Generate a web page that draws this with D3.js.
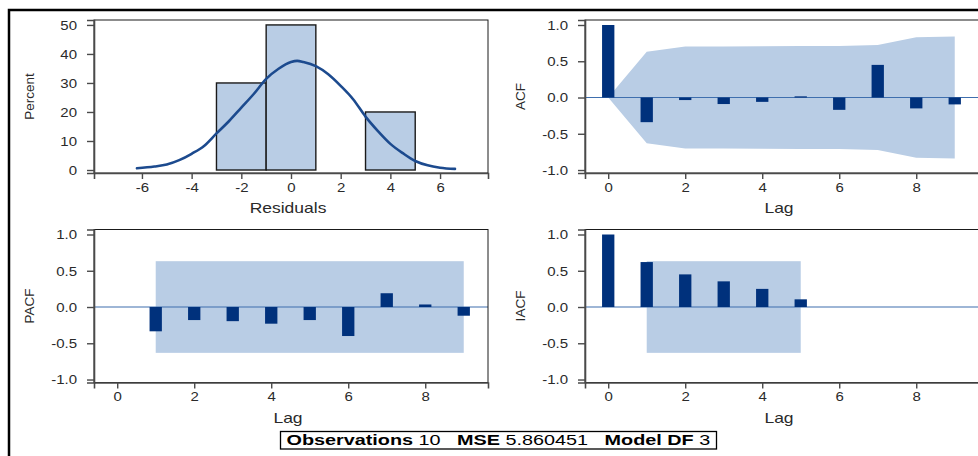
<!DOCTYPE html>
<html>
<head>
<meta charset="utf-8">
<script src="https://cdn.jsdelivr.net/npm/d3@7"></script>
<style>
  body { margin: 0; background: #fff; }
  svg { display: block; }
  text { font-family: "Liberation Sans", Arial, sans-serif; fill: #2a2a2a; }
</style>
</head>
<body>
<svg id="chart" width="978" height="456"></svg>
<script>
// ---- Residual distribution (percent of observations per bin of width 2) ----
const binStarts = [-3, -1, 3];
const binEnds = [-1, 1, 5];
const binPercent = [30, 50, 20];

// Fitted normal density, percent scale
const normX = [-6.2, -5.5, -5.0, -4.5, -4.0, -3.5, -3.0, -2.5, -2.0, -1.5, -1.0, -0.5, 0.0, 0.25,
               0.5, 1.0, 1.5, 2.0, 2.5, 3.0, 3.5, 4.0, 4.5, 5.0, 5.5, 6.0, 6.6];
const normY = [0.6, 1.2, 1.9, 3.4, 5.6, 8.3, 12.6, 16.8, 21.5, 26.2, 31.4, 34.9, 37.2, 37.6,
               37.2, 35.8, 33.0, 29.0, 24.4, 18.4, 13.4, 9.0, 5.8, 3.1, 1.6, 0.8, 0.4];

// ---- Autocorrelation diagnostics ----
const acfLags = [0, 1, 2, 3, 4, 5, 6, 7, 8, 9];
const acfValues = [1.0, -0.34, -0.035, -0.09, -0.06, 0.016, -0.17, 0.45, -0.15, -0.095];
const acfBand = [0, 0.632, 0.702, 0.702, 0.707, 0.709, 0.709, 0.725, 0.830, 0.840];

const pacfLags = [1, 2, 3, 4, 5, 6, 7, 8, 9];
const pacfValues = [-0.335, -0.18, -0.195, -0.23, -0.18, -0.40, 0.19, 0.035, -0.12];

const iacfLags = [0, 1, 2, 3, 4, 5];
const iacfValues = [1.0, 0.62, 0.45, 0.354, 0.25, 0.106];

const sigLimit = 0.632;          // 2 / sqrt(n)
const pacfBandLags = [1, 9];
const iacfBandLags = [1, 5];

// ---- Tick labels ----
const residualTicks = [-6, -4, -2, 0, 2, 4, 6];
const percentTicks = [0, 10, 20, 30, 40, 50];
const lagTicks = [0, 2, 4, 6, 8];
const corrTicks = [-1.0, -0.5, 0.0, 0.5, 1.0];

// ---- Fit statistics ----
const statLabels = ["Observations", "MSE", "Model DF"];
const statValues = ["10", "5.860451", "3"];

// ---- Drawing ----
const SX = 1.25;                 // horizontal stretch applied to upright text
const svg = d3.select("#chart");
const PW = 394, PH = 153;

const colors = {
  band: "#b9cde5",
  histFill: "#b9cde5",
  bar: "#00317c",
  curve: "#1c4a8e",
  zero: "#3f6fae",
  axis: "#4a4a4a",
  frame: "#1a1a1a"
};

// outer frame
svg.append("rect")
  .attr("x", 9).attr("y", 10)
  .attr("width", 1100).attr("height", 600)
  .attr("fill", "none").attr("stroke", "#000").attr("stroke-width", 2.5);

function stretchText(g, x, y, str, size, anchor, weight) {
  return g.append("text")
    .attr("transform", `translate(${x},${y}) scale(${SX},1)`)
    .attr("text-anchor", anchor || "middle")
    .style("font-size", size + "px")
    .style("font-weight", weight || "normal")
    .text(str);
}

function panel(left, top, xScale, yScale, xTicks, yTicks, xFmt, yFmt, xTitle, yTitle) {
  const g = svg.append("g").attr("transform", `translate(${left},${top})`);
  const plot = g.append("g");

  // frame
  g.append("rect")
    .attr("x", 0).attr("y", 0).attr("width", PW).attr("height", PH)
    .attr("fill", "none").attr("stroke", colors.frame).attr("stroke-width", 1);

  const xAxis = g.append("g")
    .attr("transform", `translate(0,${PH})`)
    .call(d3.axisBottom(xScale).tickValues(xTicks).tickFormat(xFmt).tickSize(6).tickPadding(4));
  const yAxis = g.append("g")
    .call(d3.axisLeft(yScale).tickValues(yTicks).tickFormat(yFmt).tickSize(7).tickPadding(9));

  [xAxis, yAxis].forEach(a => {
    a.select(".domain").attr("stroke", colors.axis).attr("stroke-width", 1.6);
    a.selectAll(".tick line").attr("stroke", colors.axis).attr("stroke-width", 1.4);
    a.selectAll(".tick text")
      .style("font-family", '"Liberation Sans", Arial, sans-serif')
      .style("font-size", "12px").attr("fill", "#2a2a2a");
  });
  xAxis.selectAll(".tick text").attr("transform", `scale(${SX},1)`);
  yAxis.selectAll(".tick text").attr("x", -17 / SX).attr("dy", "0.36em")
    .attr("transform", `scale(${SX},1)`);

  stretchText(g, PW / 2 - 3, PH + 40, xTitle, 14);
  g.append("text")
    .attr("transform", `translate(${-60},${PH / 2}) rotate(-90)`)
    .attr("text-anchor", "middle")
    .style("font-size", "13.5px")
    .text(yTitle);
  return plot;
}

// Top-left: residual histogram
const hx = d3.scaleLinear().domain([-7.93, 7.93]).range([0, PW]);
const hy = d3.scaleLinear().domain([-1.03, 51.7]).range([PH, 0]);
const hist = panel(94, 20, hx, hy, residualTicks, percentTicks,
  d => String(d), d => String(d), "Residuals", "Percent");

hist.selectAll("rect.bin")
  .data(binPercent)
  .join("rect")
  .attr("class", "bin")
  .attr("x", (d, i) => hx(binStarts[i]))
  .attr("width", (d, i) => hx(binEnds[i]) - hx(binStarts[i]))
  .attr("y", d => hy(d))
  .attr("height", d => hy(0) - hy(d))
  .attr("fill", colors.histFill)
  .attr("stroke", "#1a1a1a").attr("stroke-width", 1.4);

hist.append("path")
  .datum(normX.map((x, i) => [x, normY[i]]))
  .attr("d", d3.line().x(d => hx(d[0])).y(d => hy(d[1])).curve(d3.curveMonotoneX))
  .attr("fill", "none").attr("stroke", colors.curve).attr("stroke-width", 2.6)
  .attr("stroke-linecap", "round");

// Lag panels share scales
const lx = d3.scaleLinear().domain([-0.603, 9.63]).range([0, PW]);
const cy = d3.scaleLinear().domain([-1.041, 1.069]).range([PH, 0]);
const corrFmt = d => d.toFixed(1);
const BW = lx(0.32) - lx(0);

function drawBars(p, lags, vals) {
  p.selectAll("rect.bar")
    .data(vals)
    .join("rect")
    .attr("class", "bar")
    .attr("x", (d, i) => lx(lags[i]) - BW / 2)
    .attr("width", BW)
    .attr("y", d => cy(Math.max(0, d)))
    .attr("height", d => Math.abs(cy(d) - cy(0)))
    .attr("fill", colors.bar);
}
function zeroLine(p) {
  p.append("line")
    .attr("x1", 0).attr("x2", PW)
    .attr("y1", cy(0)).attr("y2", cy(0))
    .attr("stroke", colors.zero).attr("stroke-width", 1.2);
}
function rectBand(p, range) {
  p.append("rect")
    .attr("x", lx(range[0])).attr("width", lx(range[1]) - lx(range[0]))
    .attr("y", cy(sigLimit)).attr("height", cy(-sigLimit) - cy(sigLimit))
    .attr("fill", colors.band);
}

// Top-right: ACF
const acfP = panel(585, 20, lx, cy, lagTicks, corrTicks, d => String(d), corrFmt, "Lag", "ACF");
acfP.append("path")
  .datum(acfLags.map((l, i) => [l, acfBand[i]]))
  .attr("d", d3.area().x(d => lx(d[0])).y0(d => cy(-d[1])).y1(d => cy(d[1])))
  .attr("fill", colors.band);
zeroLine(acfP);
drawBars(acfP, acfLags, acfValues);

// Bottom-left: PACF
const pacfP = panel(94, 229.5, lx, cy, lagTicks, corrTicks, d => String(d), corrFmt, "Lag", "PACF");
rectBand(pacfP, pacfBandLags);
zeroLine(pacfP);
drawBars(pacfP, pacfLags, pacfValues);

// Bottom-right: IACF
const iacfP = panel(585, 229.5, lx, cy, lagTicks, corrTicks, d => String(d), corrFmt, "Lag", "IACF");
rectBand(iacfP, iacfBandLags);
zeroLine(iacfP);
drawBars(iacfP, iacfLags, iacfValues);

// Fit statistics inset
const boxX = 280.5, boxY = 431.5, boxW = 436, boxH = 17.5;
svg.append("rect")
  .attr("x", boxX).attr("y", boxY).attr("width", boxW).attr("height", boxH)
  .attr("fill", "#fff").attr("stroke", "#000").attr("stroke-width", 1.3);
const stat = svg.append("text")
  .attr("text-anchor", "start")
  .style("font-size", "14px")
  .style("white-space", "pre");
statLabels.forEach((lab, i) => {
  stat.append("tspan").style("font-weight", "bold").attr("fill", "#000").text((i ? "   " : "") + lab);
  stat.append("tspan").attr("fill", "#000").text(" " + statValues[i]);
});
const rawW = stat.node().getComputedTextLength();
const fitScale = (boxW - 12) / rawW;
stat.attr("transform", `translate(${boxX + 6},${boxY + 13.5}) scale(${fitScale},1)`);
</script>
</body>
</html>
